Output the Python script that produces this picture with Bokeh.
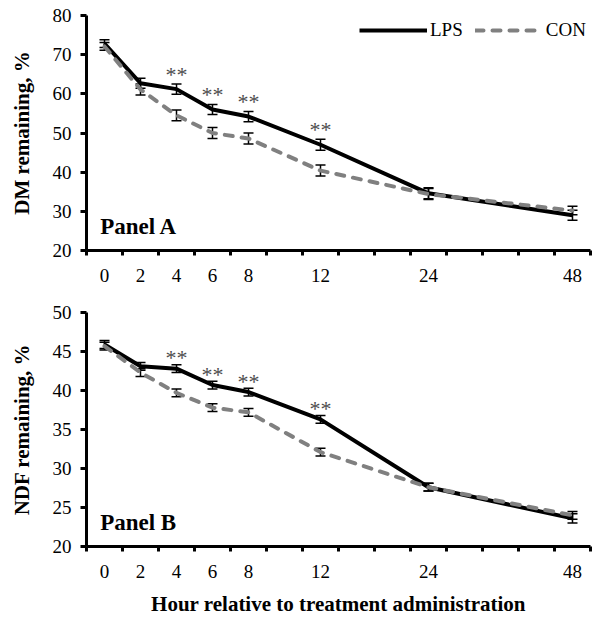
from bokeh.plotting import figure
from bokeh.layouts import column
from bokeh.models import (ColumnDataSource, FixedTicker, LinearAxis, Range1d,
                          Whisker, TeeHead, Label, Legend, LegendItem)
from bokeh.core.properties import value
from bokeh.embed import file_html
from bokeh.resources import INLINE

# Sampling times (h) and their category slot on the evenly spaced axis
hours = [0, 2, 4, 6, 8, 12, 24, 48]
hour_slot = [0, 1, 2, 3, 4, 6, 9, 13]
n_slots = 14

# Panel A: DM remaining, %
dm_lps = [72.8, 62.7, 61.2, 56.0, 54.2, 47.0, 34.6, 29.0]
dm_lps_se = [1.0, 1.3, 1.3, 1.3, 1.3, 1.4, 1.4, 1.3]
dm_con = [72.1, 61.1, 54.5, 50.0, 48.6, 40.4, 34.4, 30.2]
dm_con_se = [1.0, 1.4, 1.4, 1.4, 1.4, 1.4, 1.4, 1.1]

# Panel B: NDF remaining, %
ndf_lps = [45.9, 43.1, 42.8, 40.7, 39.8, 36.3, 27.6, 23.6]
ndf_lps_se = [0.5, 0.5, 0.5, 0.5, 0.5, 0.5, 0.5, 0.6]
ndf_con = [45.7, 42.3, 39.7, 37.8, 37.2, 32.1, 27.6, 24.0]
ndf_con_se = [0.5, 0.5, 0.5, 0.5, 0.5, 0.5, 0.5, 0.5]

# Times with a significant treatment difference (**)
sig_hours = [4, 6, 8, 12]

SERIF = "'Liberation Serif', 'Times New Roman', serif"
CON_GRAY = "#808080"


def make_panel(title_y, lps, lps_se, con, con_se, y_lo, y_hi, y_step,
               panel_name, height, top, bottom, sig_offset,
               x_title=None, legend=False):
    p = figure(width=604, height=height, output_backend="svg",
               toolbar_location=None, x_axis_type=None, y_axis_type=None,
               x_range=Range1d(-0.5, n_slots - 0.5), y_range=Range1d(y_lo, y_hi),
               min_border_left=86, min_border_right=14,
               min_border_top=top, min_border_bottom=bottom)
    p.outline_line_color = None
    p.xgrid.visible = False
    p.ygrid.visible = False
    p.background_fill_color = "white"
    p.border_fill_color = "white"

    # y axis
    yax = LinearAxis(axis_label=title_y)
    yax.ticker = FixedTicker(ticks=list(range(y_lo, y_hi + 1, y_step)))
    yax.axis_line_width = 3
    yax.major_tick_line_width = 3
    yax.major_tick_out = 6
    yax.major_tick_in = 0
    yax.minor_tick_line_color = None
    yax.major_label_standoff = 9
    yax.major_label_text_font = SERIF
    yax.major_label_text_font_size = "19px"
    yax.major_label_text_color = "black"
    yax.axis_label_text_font = SERIF
    yax.axis_label_text_font_style = "bold"
    yax.axis_label_text_font_size = "21px"
    yax.axis_label_text_color = "black"
    yax.axis_label_standoff = 16
    p.add_layout(yax, "left")

    # x axis: labels at slot centres, tick marks between slots
    xax = LinearAxis(axis_label=x_title)
    xax.ticker = FixedTicker(ticks=hour_slot,
                             minor_ticks=[i - 0.5 for i in range(n_slots + 1)])
    xax.major_label_overrides = {s: str(h) for s, h in zip(hour_slot, hours)}
    xax.axis_line_width = 3
    xax.major_tick_out = 0
    xax.major_tick_in = 0
    xax.minor_tick_out = 5
    xax.minor_tick_in = 0
    xax.minor_tick_line_width = 3
    xax.major_label_standoff = 13
    xax.major_label_text_font = SERIF
    xax.major_label_text_font_size = "19px"
    xax.major_label_text_color = "black"
    xax.axis_label_text_font = SERIF
    xax.axis_label_text_font_style = "bold"
    xax.axis_label_text_font_size = "21px"
    xax.axis_label_text_color = "black"
    xax.axis_label_standoff = 11
    p.add_layout(xax, "below")

    lps_src = ColumnDataSource(dict(x=hour_slot, y=lps,
                                    lo=[v - e for v, e in zip(lps, lps_se)],
                                    hi=[v + e for v, e in zip(lps, lps_se)]))
    con_src = ColumnDataSource(dict(x=hour_slot, y=con,
                                    lo=[v - e for v, e in zip(con, con_se)],
                                    hi=[v + e for v, e in zip(con, con_se)]))

    r_lps = p.line("x", "y", source=lps_src, line_color="black", line_width=4,
                   line_join="round")
    r_con = p.line("x", "y", source=con_src, line_color=CON_GRAY, line_width=4,
                   line_dash="8 9", line_cap="round", line_join="round")

    for src in (lps_src, con_src):
        w = Whisker(source=src, base="x", lower="lo", upper="hi",
                    line_color="black", line_width=1.5,
                    upper_head=TeeHead(size=10, line_color="black", line_width=1.5),
                    lower_head=TeeHead(size=10, line_color="black", line_width=1.5))
        p.add_layout(w)

    # significance markers above the LPS error bars
    idx = [hours.index(h) for h in sig_hours]
    sig_src = ColumnDataSource(dict(
        x=[hour_slot[i] for i in idx],
        y=[lps[i] + lps_se[i] for i in idx],
        t=["**"] * len(idx)))
    p.text("x", "y", text="t", source=sig_src, text_font=value(SERIF),
           text_font_size="22px", text_color="#4d4d4d", text_align="center",
           text_baseline="alphabetic", y_offset=sig_offset)

    p.add_layout(Label(x=-0.12, y=y_lo, y_offset=12, text=panel_name,
                       text_font=SERIF, text_font_style="bold",
                       text_font_size="23px", text_color="black"))

    if legend:
        lg = Legend(items=[LegendItem(label="LPS", renderers=[r_lps]),
                           LegendItem(label="CON", renderers=[r_con])],
                    orientation="horizontal", location=(273, 209),
                    glyph_width=68, glyph_height=20, label_standoff=3,
                    spacing=12, padding=0, margin=0,
                    border_line_color=None, background_fill_alpha=0,
                    label_text_font=SERIF, label_text_font_size="19px",
                    label_text_color="black")
        p.add_layout(lg, "center")
    return p


pa = make_panel("DM remaining, %", dm_lps, dm_lps_se, dm_con, dm_con_se,
                20, 80, 10, "Panel A", 290, 15, 40, -10, legend=True)
pb = make_panel("NDF remaining, %", ndf_lps, ndf_lps_se, ndf_con, ndf_con_se,
                20, 50, 5, "Panel B", 328, 22, 70, -7,
                x_title="Hour relative to treatment administration")

layout = column(pa, pb, spacing=0)
open("out.html", "w").write(file_html(layout, INLINE))
